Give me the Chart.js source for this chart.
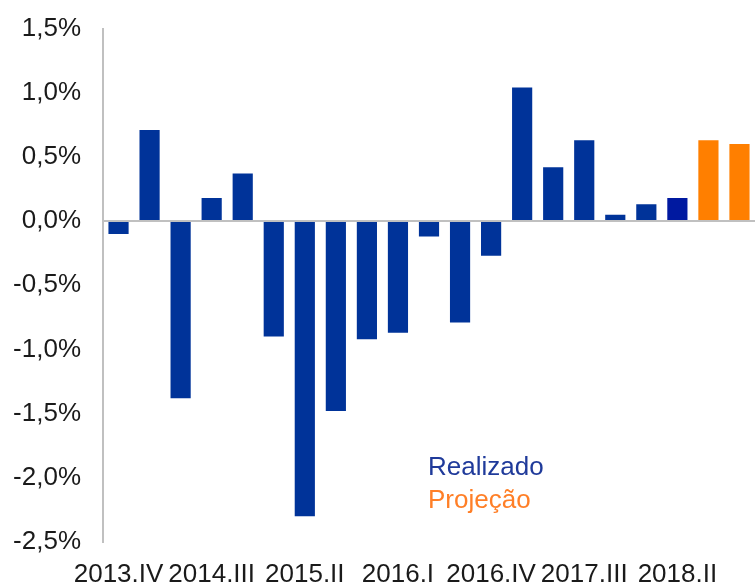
<!DOCTYPE html>
<html>
<head>
<meta charset="utf-8">
<script src="https://cdn.jsdelivr.net/npm/chart.js@4"></script>
<style>
  html, body { margin: 0; padding: 0; background: #fff; }
  #wrap { width: 755px; height: 587px; }
</style>
</head>
<body>
<div id="wrap"><canvas id="myChart" width="755" height="587"></canvas></div>
<script>
var quarters = ["2013.IV","2014.I","2014.II","2014.III","2014.IV","2015.I","2015.II","2015.III","2015.IV",
  "2016.I","2016.II","2016.III","2016.IV","2017.I","2017.II","2017.III","2017.IV","2018.I","2018.II",
  "2018.III","2018.IV"];
var realizado = [-0.10, 0.71, -1.38, 0.18, 0.37, -0.90, -2.30, -1.48, -0.92, -0.87, -0.12, -0.79, -0.27,
  1.04, 0.42, 0.63, 0.05, 0.13, 0.18, null, null];
var projecao = [null, null, null, null, null, null, null, null, null, null, null, null, null,
  null, null, null, null, null, null, 0.63, 0.60];
var yTicks = [1.5, 1.0, 0.5, 0.0, -0.5, -1.0, -1.5, -2.0, -2.5];

var blue = "#003399";
var orange = "#FF7F00";
var font = { family: "'Liberation Sans', Arial, sans-serif", size: 26 };

// last realised quarter is drawn in a slightly brighter blue
var realColors = realizado.map(function (v, i) { return i == 18 ? "#0019A0" : blue; });

var legendText = {
  id: "legendText",
  afterDraw: function (chart) {
    var ctx = chart.ctx, a = chart.chartArea;
    ctx.save();
    ctx.font = "26px 'Liberation Sans', Arial, sans-serif";
    ctx.textAlign = "left";
    ctx.textBaseline = "middle";
    ctx.fillStyle = "#1F3A9A";
    ctx.fillText("Realizado", a.left + 325, a.top + 439);
    ctx.fillStyle = "#FF7F27";
    ctx.fillText("Projeção", a.left + 325, a.top + 472);
    ctx.restore();
  }
};

new Chart("myChart", {
  type: "bar",
  data: {
    labels: quarters,
    datasets: [
      { label: "Realizado", data: realizado, backgroundColor: realColors },
      { label: "Projeção", data: projecao, backgroundColor: orange }
    ]
  },
  options: {
    responsive: false,
    animation: false,
    layout: { padding: { top: 28, right: 0, left: 0, bottom: 0 } },
    datasets: { bar: { barPercentage: 0.65, categoryPercentage: 1.0 } },
    plugins: { legend: { display: false }, tooltip: { enabled: false } },
    scales: {
      x: {
        stacked: true,
        grid: { display: false },
        border: { display: false },
        ticks: {
          color: "#1a1a1a",
          font: font,
          autoSkip: false,
          maxRotation: 0,
          padding: 9,
          callback: function (v, i) { return i % 3 == 0 ? quarters[i] : ""; }
        },
        afterFit: function (s) { s.height = 45; }
      },
      y: {
        min: -2.5,
        max: 1.5,
        afterBuildTicks: function (s) { s.ticks = yTicks.map(function (v) { return { value: v }; }); },
        grid: {
          drawTicks: false,
          color: function (c) { return c.tick && c.tick.value === 0 ? "#c0c0c0" : "rgba(0,0,0,0)"; },
          lineWidth: 2
        },
        border: { display: true, color: "#c0c0c0", width: 2 },
        ticks: {
          color: "#1a1a1a",
          font: { family: font.family, size: 26, lineHeight: 0.5 },
          padding: 22,
          callback: function (v) { return v.toFixed(1).replace(".", ",") + "%"; }
        },
        afterFit: function (s) { s.width = 103; }
      }
    }
  },
  plugins: [legendText]
});
</script>
</body>
</html>
